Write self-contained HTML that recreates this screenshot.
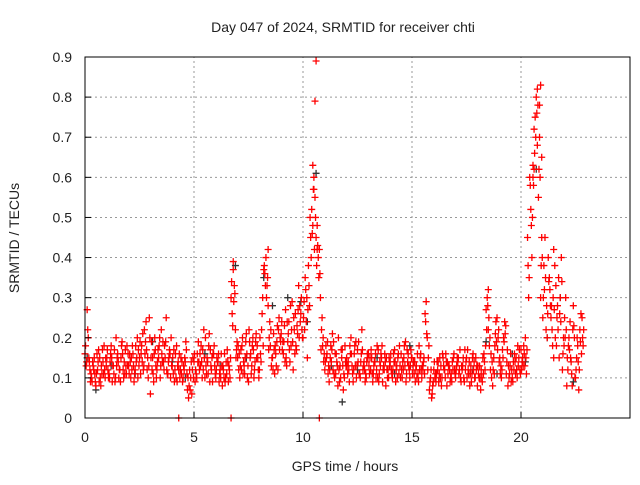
<!DOCTYPE html>
<html><head><meta charset="utf-8"><style>
body{margin:0;background:#fff;}
svg text{font-family:"Liberation Sans",sans-serif;font-size:14px;fill:#222;}
</style></head><body>
<svg width="640" height="480" id="chart">
<rect width="640" height="480" fill="#fff"/>
<g id="grid"></g>
<g id="pts"></g>
<g id="axes"></g>
<text x="343" y="32" text-anchor="middle">Day 047 of 2024, SRMTID for receiver chti</text>
<text x="345" y="471" text-anchor="middle">GPS time / hours</text>
<text transform="translate(19,238) rotate(-90)" text-anchor="middle">SRMTID / TECUs</text>
</svg>
<script>
const xTicks=[0,5,10,15,20];
const yTicks=[0,0.1,0.2,0.3,0.4,0.5,0.6,0.7,0.8,0.9];
const yTickLabels=["0","0.1","0.2","0.3","0.4","0.5","0.6","0.7","0.8","0.9"];
const redA=[0.16,0.27,0.14,0.10,0.12,0.08,0.14,0.10,0.17,0.12,
0.15,0.11,0.18,0.13,0.10,0.16,0.12,0.19,0.14,0.11,
0.13,0.10,0.16,0.12,0.20,0.15,0.18,0.13,0.24,0.10,
0.06,0.15,0.20,0.12,0.18,0.22,0.14,0.19,0.11,0.16,
0.13,0.09,0.18,0.12,0.15,0.10,0.14,0.07,0.12,0.06,
0.14,0.11,0.19,0.13,0.17,0.10,0.15,0.21,0.12,0.16,
0.10,0.14,0.12,0.08,0.16,0.11,0.13,0.30,0.37,0.22,
0.15,0.10,0.18,0.13,0.21,0.09,0.16,0.20,0.14,0.18,
0.12,0.22,0.37,0.40,0.28,0.18,0.15,0.11,0.19,0.25,
0.21,0.16,0.27,0.19,0.14,0.29,0.22,0.17,0.33,0.26,
0.20,0.35,0.15,0.28,0.52,0.60,0.45,0.40,0.30,0.18,
0.12,0.16,0.09,0.14,0.19,0.11,0.08,0.13,0.17,0.10,
0.15,0.12,0.20,0.09,0.13,0.17,0.11,0.22,0.14,0.10,
0.16,0.12,0.09,0.14,0.18,0.11,0.15,0.13,0.08,0.12,
0.14,0.10,0.17,0.13,0.11,0.16,0.12,0.19,0.14,0.10,
0.15,0.11,0.13,0.09,0.16,0.12,0.26,0.20,0.07,0.05,
0.12,0.09,0.14,0.10,0.16,0.12,0.08,0.13,0.11,0.15,
0.10,0.14,0.17,0.12,0.09,0.15,0.11,0.13,0.16,0.10,
0.08,0.13,0.10,0.16,0.27,0.22,0.12,0.08,0.18,0.25,
0.14,0.10,0.20,0.23,0.08,0.13,0.10,0.16,0.12,0.15,
0.17,0.13,0.20,0.45,0.60,0.40,0.72,0.80,0.55,0.30,
0.25,0.45,0.20,0.35,0.28,0.15,0.33,0.22,0.30,0.12,
0.25,0.08,0.20,0.14,0.28,0.10,0.18,0.22,0.25];
const redB=[0.13,0.20,0.09,0.14,0.11,0.16,0.09,0.13,0.11,0.15,
0.12,0.14,0.09,0.17,0.13,0.10,0.15,0.12,0.17,0.13,
0.16,0.12,0.09,0.14,0.17,0.11,0.21,0.16,0.12,0.25,
0.19,0.09,0.13,0.17,0.10,0.14,0.18,0.12,0.15,0.20,
0.11,0.16,0.13,0.10,0.14,0.12,0.17,0.05,0.10,0.15,
0.09,0.16,0.12,0.14,0.22,0.13,0.11,0.17,0.09,0.13,
0.15,0.09,0.16,0.12,0.10,0.14,0.10,0.26,0.33,0.17,
0.12,0.17,0.11,0.15,0.10,0.19,0.13,0.10,0.21,0.12,
0.16,0.30,0.36,0.33,0.20,0.13,0.21,0.16,0.12,0.20,
0.17,0.23,0.13,0.24,0.18,0.12,0.26,0.21,0.28,0.22,
0.29,0.24,0.38,0.45,0.63,0.55,0.48,0.42,0.22,0.14,
0.18,0.11,0.15,0.21,0.10,0.14,0.12,0.17,0.07,0.14,
0.11,0.18,0.13,0.16,0.10,0.19,0.14,0.12,0.09,0.16,
0.11,0.15,0.13,0.10,0.17,0.13,0.09,0.16,0.12,0.15,
0.12,0.16,0.09,0.15,0.13,0.10,0.18,0.11,0.13,0.17,
0.13,0.09,0.16,0.12,0.10,0.15,0.29,0.15,0.10,0.08,
0.10,0.14,0.11,0.08,0.13,0.16,0.11,0.09,0.14,0.12,
0.13,0.11,0.09,0.15,0.12,0.17,0.08,0.11,0.14,0.12,
0.11,0.07,0.15,0.12,0.30,0.18,0.10,0.15,0.24,0.20,
0.11,0.17,0.24,0.14,0.10,0.09,0.14,0.11,0.18,0.12,
0.14,0.16,0.11,0.30,0.52,0.63,0.75,0.82,0.70,0.45,
0.38,0.22,0.40,0.28,0.18,0.38,0.25,0.15,0.40,0.20,
0.30,0.12,0.24,0.08,0.20,0.15,0.07,0.26,0.18];
// hundredths of TECU
const redC=[18,22,12,9,15,11,17,8,14,10,
17,10,15,11,20,14,9,16,11,18,
11,15,13,18,10,19,14,22,17,13,
15,11,17,14,20,16,12,25,14,10,
15,12,9,16,11,13,19,10,7,12,
16,10,14,18,12,20,14,9,15,18,
12,16,10,13,9,17,12,34,29,15,
18,13,20,11,16,22,11,17,19,15,
20,26,38,30,17,22,12,18,23,17,
24,19,15,21,28,19,16,23,20,30,
25,32,27,50,46,42,38,35,17,20,
14,19,12,17,11,16,20,10,13,18,
13,9,16,12,19,14,10,17,12,14,
13,17,11,16,10,14,18,12,15,10,
16,12,14,10,18,12,15,9,16,13,
11,14,10,18,12,14,24,12,9,6,
14,11,9,13,15,10,14,12,9,16,
12,15,10,13,17,10,14,9,12,15,
13,10,9,14,22,25,16,12,21,17,
15,12,19,11,13,16,9,14,10,17,
12,18,15,38,58,50,66,76,62,38,
30,35,26,32,22,27,18,35,24,16,
20,15,17,11,23,12,14,19,20];
const redD=[14,15,11,13,9,12,15,11,18,13,
10,16,13,9,15,12,18,10,13,16,
14,18,11,15,13,16,12,19,15,20,
12,16,10,15,13,19,15,11,17,13,
17,10,14,12,9,15,11,8,14,10,
12,14,16,10,15,11,18,13,16,11,
14,11,13,10,14,9,15,23,31,19,
16,12,14,19,13,15,18,12,15,10,
14,18,33,35,24,15,17,13,22,19,
19,14,24,17,22,25,18,27,24,20,
22,30,33,40,57,50,43,36,25,16,
15,13,18,12,16,13,9,15,11,13,
14,16,11,18,13,11,16,13,11,15,
15,11,14,12,9,16,12,14,10,13,
11,14,12,16,10,14,13,17,12,15,
14,12,11,15,13,11,21,18,12,9,
11,12,15,10,12,14,13,10,12,11,
15,12,13,10,14,12,11,15,10,13,
10,12,11,18,28,20,14,11,19,22,
13,15,21,17,11,12,12,15,13,11,
15,13,17,35,48,58,70,78,60,40,
32,28,34,25,30,20,28,26,34,18,
22,18,15,22,10,20,12,16,22];
const redATimeStart=0.0, redBTimeStart=0.05, redCTimeStart=0.025, redDTimeStart=0.075, sampleStep=0.1;
const extraT=[10.6,10.55,10.5,10.65,20.9,20.85,20.6,20.55,20.75,4.3,6.7,10.75,8.4,6.8,18.5,10.45,20.95,21.5];
const extraV=[0.89,0.79,0.57,0.42,0.83,0.78,0.62,0.60,0.68,0,0,0,0.42,0.39,0.32,0.48,0.65,0.42];
const blackT=[0.1,0.5,1.2,2.3,3.1,4.0,4.6,5.5,6.2,6.9,7.4,8.2,8.6,9.3,9.9,10.2,10.6,11.3,11.8,12.5,13.4,14.2,14.9,15.5,16.3,17.1,17.8,18.4,18.9,19.6,20.2,20.7,21.2,21.8,22.4];
const blackV=[0.15,0.07,0.13,0.11,0.19,0.14,0.10,0.16,0.13,0.38,0.15,0.35,0.28,0.30,0.29,0.24,0.61,0.13,0.04,0.12,0.15,0.11,0.18,0.13,0.10,0.15,0.12,0.19,0.11,0.16,0.14,0.62,0.20,0.30,0.09];
const X0=85,X1=630,Y0=418,Y1=57,XMAX=25,YMAX=0.9;
const xs=v=>X0+(X1-X0)*v/XMAX, ys=v=>Y0-(Y0-Y1)*v/YMAX;
const NS="http://www.w3.org/2000/svg";
function mk(tag,attrs,parent){const e=document.createElementNS(NS,tag);for(const k in attrs)e.setAttribute(k,attrs[k]);parent.appendChild(e);return e;}
const grid=document.getElementById('grid'),axes=document.getElementById('axes'),pts=document.getElementById('pts');
xTicks.forEach(t=>{const x=xs(t);
 if(t>0){const l=mk('line',{x1:x,x2:x,y1:Y0,y2:Y1,stroke:'#999','stroke-dasharray':'2,3','stroke-width':1},grid);
 
 }
 mk('line',{x1:x,x2:x,y1:Y0,y2:Y0-6,stroke:'#000'},axes);
 const tx=mk('text',{x:x,y:Y0+24,'text-anchor':'middle'},axes);tx.textContent=t;
 
 });
yTicks.forEach((t,i)=>{const y=ys(t);
 if(t>0){const l=mk('line',{x1:X0,x2:X1,y1:y,y2:y,stroke:'#999','stroke-dasharray':'2,3','stroke-width':1},grid);
 
 }
 mk('line',{x1:X0,x2:X0+6,y1:y,y2:y,stroke:'#000'},axes);
 const tx=mk('text',{x:X0-13,y:y+5,'text-anchor':'end'},axes);tx.textContent=yTickLabels[i];
 
 });
mk('path',{d:`M${X0},${Y1} V${Y0} H${X1} V${Y1} Z`,fill:'none',stroke:'#000','stroke-width':1},axes);
function plus(t,v,color,name){const x=xs(t),y=ys(v);
 const p=mk('path',{d:`M${x-3.5},${y}h7M${x},${y-3.5}v7`,stroke:color,'stroke-width':1.3},pts);
 
 }
blackV.forEach((v,i)=>plus(blackT[i],v,'#333','black-point'));
redA.forEach((v,i)=>plus(redATimeStart+i*sampleStep,v,'#f00','red-point'));
redB.forEach((v,i)=>plus(redBTimeStart+i*sampleStep,v,'#f00','red-point'));
redC.forEach((v,i)=>plus(redCTimeStart+i*sampleStep,v/100,'#f00','red-point'));
redD.forEach((v,i)=>plus(redDTimeStart+i*sampleStep,v/100,'#f00','red-point'));
extraV.forEach((v,i)=>plus(extraT[i],v,'#f00','red-point'));
</script>
</body></html>
